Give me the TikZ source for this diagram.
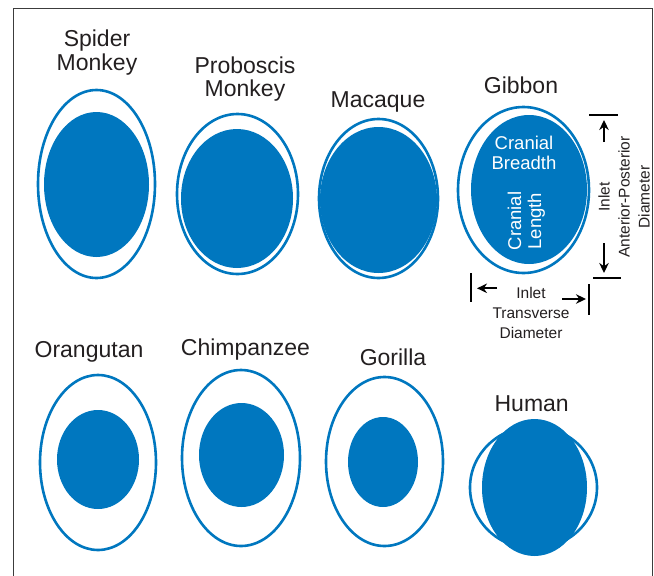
\documentclass[tikz,border=0pt]{standalone}
\usepackage{fontspec}
\setmainfont{Liberation Sans}
\usetikzlibrary{shapes.geometric, arrows.meta, positioning}
\definecolor{pelvisBlue}{HTML}{0077BF}
\definecolor{inkGray}{HTML}{231F20}
\definecolor{frameGray}{HTML}{3C3C3C}

\begin{document}
\begin{tikzpicture}[x=1pt, y=-1pt,
    inlet/.style={draw=pelvisBlue, line width=2.6pt, ellipse, inner sep=0pt, outer sep=0pt},
    skull/.style={fill=pelvisBlue, ellipse, inner sep=0pt, outer sep=0pt},
    species/.style={anchor=base, inner sep=0pt, text=inkGray, font=\fontsize{23}{23}\selectfont},
    inside/.style={align=center, inner sep=0pt, text=white, font=\fontsize{18.5}{20}\selectfont},
    dim/.style={align=center, inner sep=0pt, text=inkGray, font=\fontsize{15.5}{20}\selectfont},
    bar/.style={draw=black, line width=2.6pt},
    arrow/.style={-{Stealth[length=10pt, width=9.5pt]}, line width=2.2pt, black},
]
    \useasboundingbox (0,0) rectangle (654,576);
    \draw[frameGray, line width=1.4pt] (13.5,576) -- (13.5,8.3) -- (652.5,8.3) -- (652.5,576);

    % top row
    \node[species] (spider1) at (97,46.7) {Spider};
    \node[species] (spider2) at (97,70) {Monkey};
    \node[inlet, minimum width=117, minimum height=188] (spiderInlet) at (96.5,184) {};
    \node[skull, minimum width=105, minimum height=145] (spiderSkull) at (96.5,184.5) {};

    \node[species] (proboscis1) at (245,73.3) {Proboscis};
    \node[species] (proboscis2) at (245,96) {Monkey};
    \node[inlet, minimum width=121, minimum height=160] (proboscisInlet) at (237.5,194) {};
    \node[skull, minimum width=112, minimum height=139] (proboscisSkull) at (237,198.5) {};

    \node[species] (macaque) at (378,107.3) {Macaque};
    \node[inlet, minimum width=119, minimum height=159] (macaqueInlet) at (378.5,198.5) {};
    \node[skull, minimum width=117, minimum height=146] (macaqueSkull) at (378.5,200) {};

    \node[species] (gibbon) at (521,93.3) {Gibbon};
    \node[inlet, minimum width=131, minimum height=166] (gibbonInlet) at (523.5,190) {};
    \node[skull, minimum width=116, minimum height=149] (gibbonSkull) at (529,189.5) {};
    \node[inside] (breadth) at (524,153) {Cranial\\Breadth};
    \node[inside, rotate=90] (length) at (526.3,221) {Cranial\\Length};

    % inlet dimensions
    \coordinate (apTopL) at (589,115);
    \coordinate (apTopR) at (618,115);
    \coordinate (apBotL) at (593,278);
    \coordinate (apBotR) at (621,278);
    \coordinate (apUpTail) at (604,142);
    \coordinate (apUpTip) at (604,120);
    \coordinate (apDownTail) at (604,243);
    \coordinate (apDownTip) at (604,273);
    \draw[bar] (apTopL) -- (apTopR);
    \draw[bar] (apBotL) -- (apBotR);
    \draw[arrow] (apUpTail) -- (apUpTip);
    \draw[arrow] (apDownTail) -- (apDownTip);
    \node[dim, rotate=90] (apLabel) at (624,197) {Inlet\\Anterior-Posterior\\Diameter};

    \coordinate (trLeftA) at (471,273);
    \coordinate (trLeftB) at (471,302);
    \coordinate (trRightA) at (589,284);
    \coordinate (trRightB) at (589,315);
    \coordinate (trLeftTail) at (497,288.3);
    \coordinate (trLeftTip) at (477,288.3);
    \coordinate (trRightTail) at (562,299);
    \coordinate (trRightTip) at (586,299);
    \draw[bar] (trLeftA) -- (trLeftB);
    \draw[bar] (trRightA) -- (trRightB);
    \draw[arrow] (trLeftTail) -- (trLeftTip);
    \draw[arrow] (trRightTail) -- (trRightTip);
    \node[dim] (trLabel) at (531,312.5) {Inlet\\Transverse\\Diameter};

    % bottom row
    \node[species] (orangutan) at (89,357.3) {Orangutan};
    \node[inlet, minimum width=116, minimum height=175] (orangutanInlet) at (98,462.5) {};
    \node[skull, minimum width=82, minimum height=99] (orangutanSkull) at (98,459.5) {};

    \node[species] (chimp) at (245.5,355) {Chimpanzee};
    \node[inlet, minimum width=118, minimum height=176] (chimpInlet) at (241,458) {};
    \node[skull, minimum width=85, minimum height=104] (chimpSkull) at (241.5,455) {};

    \node[species] (gorilla) at (393,365.7) {Gorilla};
    \node[inlet, minimum width=117, minimum height=169] (gorillaInlet) at (384.5,461.5) {};
    \node[skull, minimum width=70, minimum height=90] (gorillaSkull) at (383,462) {};

    \node[species] (human) at (531.7,411.7) {Human};
    \node[inlet, minimum width=127, minimum height=122] (humanInlet) at (533.5,487.5) {};
    \node[skull, minimum width=105, minimum height=137] (humanSkull) at (534.5,487.5) {};
\end{tikzpicture}
\end{document}
